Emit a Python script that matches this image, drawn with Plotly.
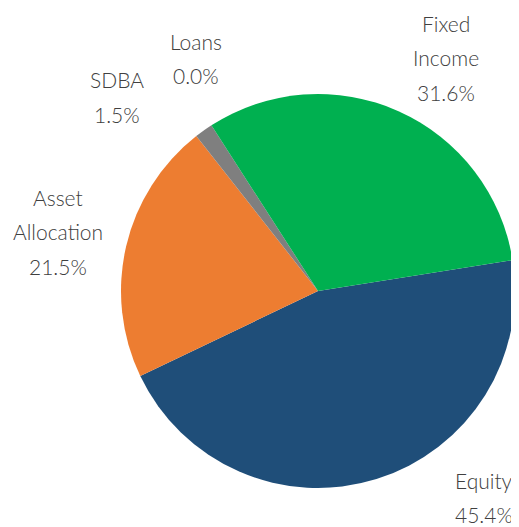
import plotly.graph_objects as go

labels = ["Equity", "Asset Allocation", "SDBA", "Loans", "Fixed Income"]
values = [45.4, 21.5, 1.5, 0.0, 31.6]
colors = ["#1F4E79", "#ED7D31", "#7F7F7F", "#A5A5A5", "#00B050"]

# label text lines and their pixel anchors (centre x, first line y)
label_lines = {
    "Equity": ["Equity"],
    "Asset Allocation": ["Asset", "Allocation"],
    "SDBA": ["SDBA"],
    "Loans": ["Loans"],
    "Fixed Income": ["Fixed", "Income"],
}
label_pos = {
    "Equity": (484, 480),
    "Asset Allocation": (58, 197),
    "SDBA": (117, 80),
    "Loans": (196, 41),
    "Fixed Income": (446, 23),
}

# page body adds an 8px margin, so work in page pixels minus that offset
OFF = 8
W, H = 519 - OFF, 527 - OFF
LINE = 34.5

def px(x):
    return (x - OFF) / W

def py(y):
    return 1 - (y - OFF) / H

fig = go.Figure(go.Pie(
    labels=labels,
    values=values,
    sort=False,
    direction="clockwise",
    rotation=81,
    textinfo="none",
    hoverinfo="label+percent",
    marker=dict(colors=colors, line=dict(width=0)),
    domain=dict(x=[px(121), px(515)], y=[py(488), py(94)]),
    showlegend=False,
))

annotations = []
for lab, val in zip(labels, values):
    lines = label_lines[lab] + ["%.1f%%" % val]
    cx, cy = label_pos[lab]
    for i, line in enumerate(lines):
        annotations.append(dict(
            x=px(cx), y=py(cy + i * LINE),
            xref="paper", yref="paper",
            xanchor="center", yanchor="middle",
            text=line, showarrow=False,
            font=dict(family="Lato", size=21, color="#404040", weight=300),
        ))

fig.update_layout(
    width=W, height=H,
    margin=dict(l=0, r=0, t=0, b=0),
    paper_bgcolor="white",
    plot_bgcolor="white",
    annotations=annotations,
)

fig.write_html("out.html")
